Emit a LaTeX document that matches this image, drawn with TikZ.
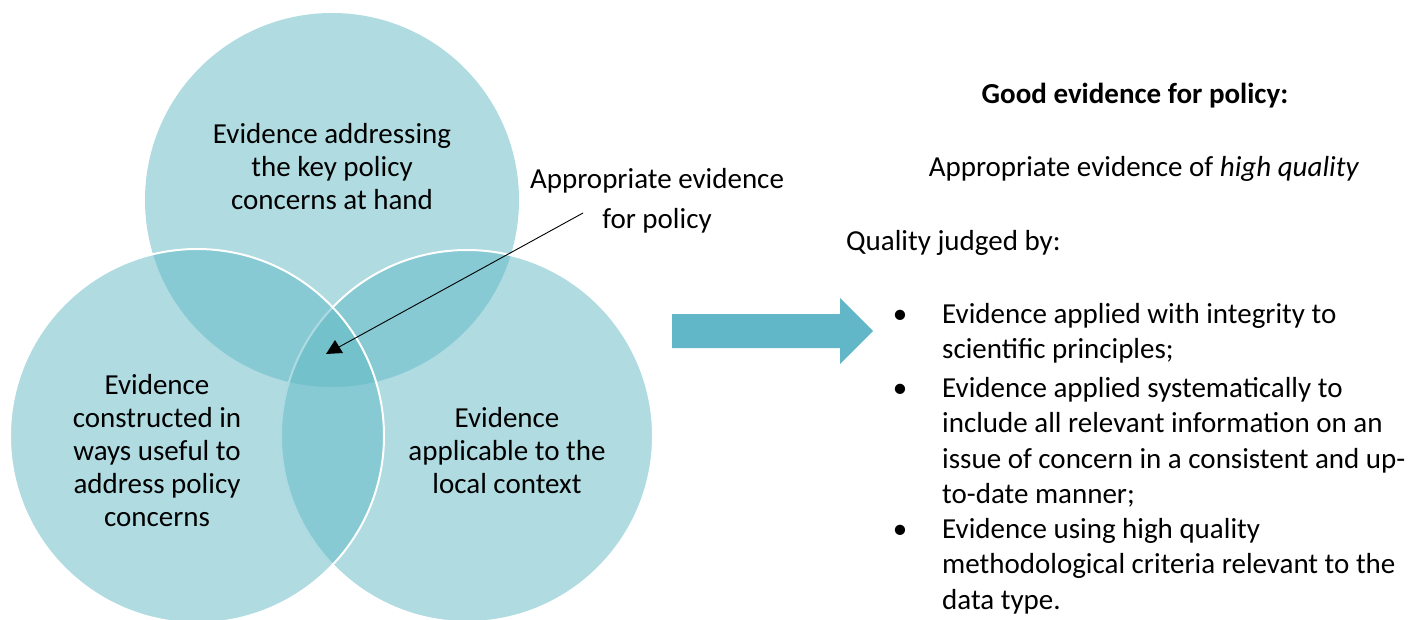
\documentclass[tikz,border=0pt]{standalone}
\usepackage{fontspec}
\setmainfont{Carlito}
\begin{document}
\begin{tikzpicture}[x=1pt,y=-1pt,
  venn/.style={fill=vennblue,fill opacity=0.5},
  vennedge/.style={draw=white,line width=2pt},
  ctext/.style={align=center,inner sep=0pt,font=\fontsize{29}{33}\selectfont},
  rtext/.style={inner sep=0pt,font=\fontsize{29}{35.5}\selectfont},
  bul/.style={inner sep=0pt,font=\fontsize{29}{35.5}\selectfont,anchor=base},
]
\definecolor{vennblue}{RGB}{95,184,196}
\definecolor{arrowblue}{RGB}{97,183,199}
\useasboundingbox (0,0) rectangle (1415,619);
\begin{scope}
\clip (0,0) rectangle (1415,619);
% circles
\fill[venn] (332,200) circle (187);
\fill[venn] (467,436) circle (186);
\draw[vennedge] (467,436) circle (186);
\fill[venn] (197,436) circle (187);
\draw[vennedge] (197,436) circle (187);
\end{scope}
% circle texts
\node[ctext] (top) at (332,167) {Evidence addressing\\the key policy\\concerns at hand};
\node[ctext] (left) at (157,451) {Evidence\\constructed in\\ways useful to\\address policy\\concerns};
\node[ctext] (right) at (507,451) {Evidence\\applicable to the\\local context};
% callout
\node[align=center,inner sep=0pt,font=\fontsize{29}{40}\selectfont] (callout) at (657,201) {Appropriate evidence\\for policy};
\coordinate (cstart) at (583,213);
\coordinate (cend) at (339,347);
\draw[black,line width=0.9pt] (cstart) -- (cend);
\fill[black] (335,340) -- (326,354) -- (343,353) -- cycle;
% big arrow
\fill[arrowblue] (672,314) -- (840,314) -- (840,298) -- (873,331) -- (840,364) -- (840,348) -- (672,348) -- cycle;
% right side
\node[rtext,font=\fontsize{29}{35.5}\selectfont\bfseries] (title) at (1135,96) {Good evidence for policy:};
\node[rtext] (sub) at (1144,169) {Appropriate evidence of \textit{high quality}};
\node[rtext,anchor=base west] (judged) at (846,250) {Quality judged by:};
\node[bul] (b1) at (900,323) {•};
\node[rtext,anchor=base west,align=left] (i1) at (942,358.5) {Evidence applied with integrity to\\scientific principles;};
\node[bul] (b2) at (900,397) {•};
\node[rtext,anchor=base west,align=left] (i2) at (942,503.5) {Evidence applied systematically to\\include all relevant information on an\\issue of concern in a consistent and up-\\to-date manner;};
\node[bul] (b3) at (900,538) {•};
\node[rtext,anchor=base west,align=left] (i3) at (942,609) {Evidence using high quality\\methodological criteria relevant to the\\data type.};
\end{tikzpicture}
\end{document}
